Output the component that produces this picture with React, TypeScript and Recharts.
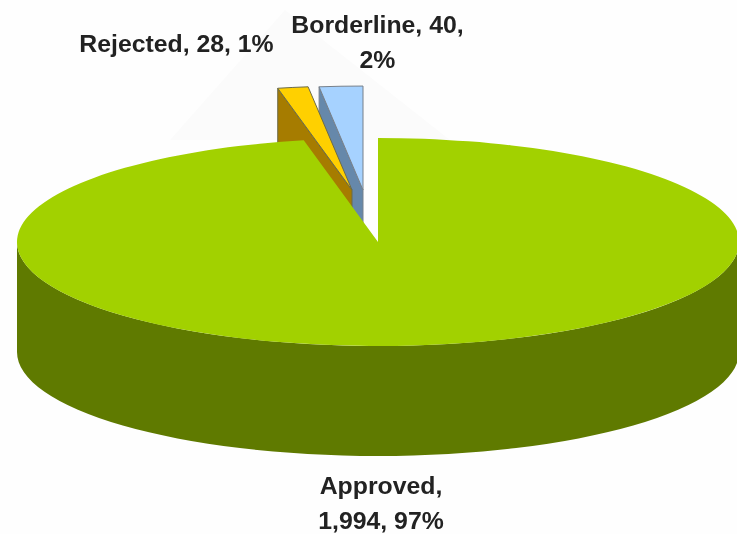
import { PieChart, Pie } from "recharts"

const NAMES = ["Borderline", "Rejected", "Approved"]
const VALUES = [40, 28, 1994]

const data = NAMES.map((name, i) => ({ name, value: VALUES[i] }))

const FLATTEN = 0.288
const DEPTH = 110

const LOOK: Record<string, any> = {
	Rejected: { top: "#FFD000", side: "#A67C00", dx: -26, dy: -52, stroke: "#6b6b4a" },
	Borderline: { top: "#A6D2FF", side: "#6688AA", dx: -15, dy: -52, stroke: "#77808a" },
	Approved: { top: "#A2D100", side: "#5F7A00", dx: 0, dy: 0, stroke: "none" },
}

const LABELS: Record<string, any> = {
	Rejected: { x: 176.5, y: 52, split: 3 },
	Borderline: { x: 377.5, y: 33, split: 2 },
	Approved: { x: 381, y: 494, split: 1 },
}

// slices run counter-clockwise from 12 o'clock so that paint order is blue, yellow, green
function Slice3D(props: any) {
	const { cx, cy, outerRadius, startAngle, endAngle, name } = props
	const look = LOOK[name]
	const x0 = cx + look.dx
	const y0 = cy + look.dy
	const rx = outerRadius
	const ry = outerRadius * FLATTEN
	const at = (deg: number) => {
		const a = (deg * Math.PI) / 180
		return [x0 + rx * Math.cos(a), y0 - ry * Math.sin(a)]
	}
	const lo = Math.min(startAngle, endAngle)
	const hi = Math.max(startAngle, endAngle)
	const [sx, sy] = at(hi)
	const [ex, ey] = at(lo)
	const large = hi - lo > 180 ? 1 : 0
	const top = `M${x0},${y0} L${sx},${sy} A${rx},${ry} 0 ${large} 1 ${ex},${ey} Z`

	if (large) {
		const rim = `M${x0 - rx},${y0} A${rx},${ry} 0 0 0 ${x0 + rx},${y0} L${x0 + rx},${y0 + DEPTH} A${rx},${ry} 0 0 1 ${x0 - rx},${y0 + DEPTH} Z`
		return (
			<g>
				<path d={rim} fill={look.side} />
				<path d={top} fill={look.top} />
			</g>
		)
	}
	const wall = `M${x0},${y0} L${sx},${sy} L${sx},${sy + DEPTH} L${x0},${y0 + DEPTH} Z`
	return (
		<g>
			<path d={wall} fill={look.side} stroke={look.stroke} strokeWidth={1} />
			<path d={top} fill={look.top} stroke={look.stroke} strokeWidth={1} />
		</g>
	)
}

function SliceLabel(props: any) {
	const { name, value, percent } = props
	const pos = LABELS[name]
	const parts = [`${name},`, `${value.toLocaleString("en-US")},`, `${Math.round(percent * 100)}%`]
	const lines = [parts.slice(0, pos.split).join(" "), parts.slice(pos.split).join(" ")].filter(Boolean)
	return (
		<text textAnchor="middle" fontFamily="Liberation Sans, Arial, sans-serif" fontWeight={700} fontSize={24.8} fill="#222">
			{lines.map((line, i) => (
				<tspan key={i} x={pos.x} y={pos.y + i * 35}>{line}</tspan>
			))}
		</text>
	)
}

export default function App() {
	return (
		<div style={{ position: "relative", width: 737, height: 534, background: "#fefefe", overflow: "hidden" }}>
			<style>{"body{margin:0}"}</style>
			{/* faint watermark triangle behind the chart */}
			<svg width={737} height={534} style={{ position: "absolute", left: 0, top: 0 }}>
				<polygon points="285,10 170,140 450,140" fill="#fbfbfb" />
			</svg>
			<div style={{ position: "absolute", left: 0, top: 0, filter: "blur(0.6px)" }}>
				<PieChart width={737} height={534} margin={{ top: 0, right: 0, bottom: 0, left: 0 }}>
					<Pie
						data={data}
						dataKey="value"
						nameKey="name"
						cx={378}
						cy={242}
						innerRadius={0}
						outerRadius={361}
						startAngle={90}
						endAngle={450}
						paddingAngle={0}
						stroke="none"
						shape={Slice3D}
						label={SliceLabel}
						labelLine={false}
						isAnimationActive={false}
					/>
				</PieChart>
			</div>
		</div>
	)
}
